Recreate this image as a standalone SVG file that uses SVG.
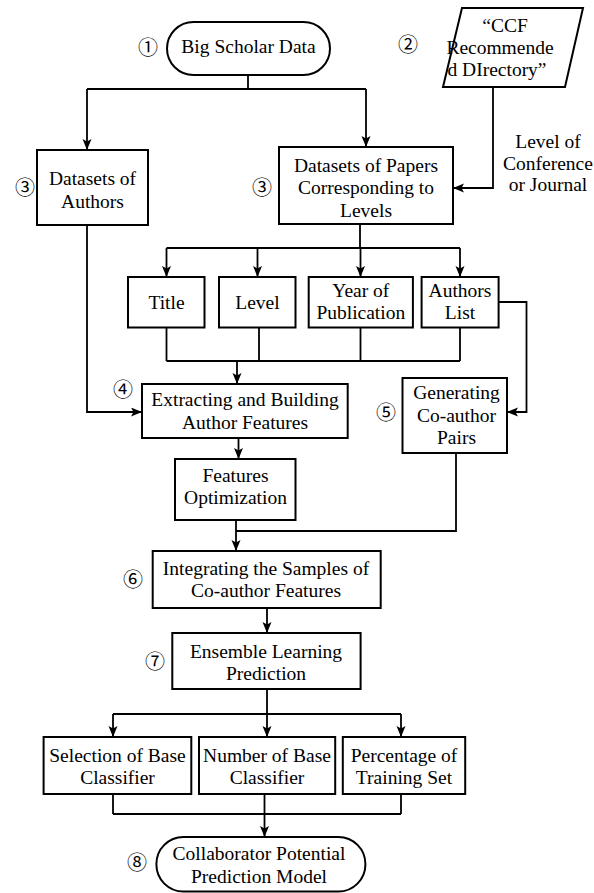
<svg xmlns="http://www.w3.org/2000/svg" width="594" height="893" viewBox="0 0 594 893">
<style>
.box{fill:#fff;stroke:#000;stroke-width:2}
.c{fill:none;stroke:#000;stroke-width:1.8}
.t{font-family:"Liberation Serif","Times New Roman",serif;font-size:19.5px;text-anchor:middle;fill:#000}
.n{font-family:"Noto Sans CJK SC","DejaVu Sans",sans-serif;font-size:20px;text-anchor:middle;fill:#000}
</style>
<defs>
<marker id="ah" markerUnits="userSpaceOnUse" markerWidth="12" markerHeight="10" refX="11" refY="4.5" orient="auto">
<path d="M0,0 L11,4.5 L0,9 L2.5,4.5 Z" fill="#000"/>
</marker>
</defs>
<rect width="594" height="893" fill="#fff"/>
<g id="connectors">
<path class="c" d="M248,75 V89 M87,89 H366"/>
<path class="c" d="M87,89 V150" marker-end="url(#ah)"/>
<path class="c" d="M366,89 V147" marker-end="url(#ah)"/>
<path class="c" d="M493,87 V188 H453" marker-end="url(#ah)"/>
<path class="c" d="M360,224 V248 M166.5,248 H460"/>
<path class="c" d="M166.5,248 V277" marker-end="url(#ah)"/>
<path class="c" d="M257.5,248 V277" marker-end="url(#ah)"/>
<path class="c" d="M360.5,248 V277" marker-end="url(#ah)"/>
<path class="c" d="M460,248 V277" marker-end="url(#ah)"/>
<path class="c" d="M166.5,327 V361 M259,327 V361 M360.5,327 V361 M460,327 V361 M166.5,361 H460"/>
<path class="c" d="M237,361 V384" marker-end="url(#ah)"/>
<path class="c" d="M498.5,302 H526.5 V412 H507" marker-end="url(#ah)"/>
<path class="c" d="M87,225 V412 H142" marker-end="url(#ah)"/>
<path class="c" d="M238.5,438 V459" marker-end="url(#ah)"/>
<path class="c" d="M456,453 V531 H236"/>
<path class="c" d="M236,520 V551" marker-end="url(#ah)"/>
<path class="c" d="M267,608 V633" marker-end="url(#ah)"/>
<path class="c" d="M267,689 V714 M113,714 H401"/>
<path class="c" d="M113,714 V737" marker-end="url(#ah)"/>
<path class="c" d="M267,714 V737" marker-end="url(#ah)"/>
<path class="c" d="M401,714 V737" marker-end="url(#ah)"/>
<path class="c" d="M113,794 V814 M264.5,794 V814 M401,794 V814 M113,814 H401"/>
<path class="c" d="M264.5,814 V837" marker-end="url(#ah)"/>
</g>
<g id="n1">
<rect class="box" x="167" y="22" width="163" height="53" rx="26.5"/>
<text class="t" x="248.5" y="53">Big Scholar Data</text>
<text class="n" x="148" y="55">①</text>
</g>
<g id="n2">
<polygon class="box" points="462,8 583,8 565,87 443,87"/>
<text class="t" x="505" y="31.5">“CCF</text>
<text class="t" x="500" y="54">Recommende</text>
<text class="t" x="497" y="76">d DIrectory”</text>
<text class="n" x="408" y="52">②</text>
</g>
<g id="label-level">
<text class="t" x="548" y="148">Level of</text>
<text class="t" x="548" y="170">Conference</text>
<text class="t" x="548" y="191">or Journal</text>
</g>
<g id="n3a">
<rect class="box" x="37" y="150" width="111" height="75"/>
<text class="t" x="92.5" y="185">Datasets of</text>
<text class="t" x="92.5" y="208">Authors</text>
<text class="n" x="25" y="195">③</text>
</g>
<g id="n3b">
<rect class="box" x="279" y="147" width="174" height="77"/>
<text class="t" x="366" y="171.5">Datasets of Papers</text>
<text class="t" x="366" y="194">Corresponding to</text>
<text class="t" x="366" y="216.5">Levels</text>
<text class="n" x="262" y="195">③</text>
</g>
<g id="title">
<rect class="box" x="128" y="277" width="76.5" height="50.5"/>
<text class="t" x="166.5" y="309">Title</text>
</g>
<g id="level">
<rect class="box" x="219" y="277" width="76.5" height="50.5"/>
<text class="t" x="257.5" y="309">Level</text>
</g>
<g id="year">
<rect class="box" x="308.7" y="277" width="104.2" height="50.5"/>
<text class="t" x="360.8" y="296.5">Year of</text>
<text class="t" x="360.8" y="319">Publication</text>
</g>
<g id="authors">
<rect class="box" x="421.6" y="277" width="77" height="50.5"/>
<text class="t" x="460" y="296.5">Authors</text>
<text class="t" x="460" y="319">List</text>
</g>
<g id="n4">
<rect class="box" x="142" y="384" width="205.7" height="54"/>
<text class="t" x="245" y="406">Extracting and Building</text>
<text class="t" x="245" y="428.5">Author Features</text>
<text class="n" x="123" y="397">④</text>
</g>
<g id="n5">
<rect class="box" x="402.5" y="378" width="104.5" height="75"/>
<text class="t" x="456.5" y="398.5">Generating</text>
<text class="t" x="456.5" y="421.5">Co-author</text>
<text class="t" x="456.5" y="444">Pairs</text>
<text class="n" x="386" y="420">⑤</text>
</g>
<g id="features">
<rect class="box" x="175" y="459" width="120.5" height="61"/>
<text class="t" x="235.5" y="482">Features</text>
<text class="t" x="235.5" y="504">Optimization</text>
</g>
<g id="n6">
<rect class="box" x="152.7" y="551" width="228" height="57"/>
<text class="t" x="266" y="575">Integrating the Samples of</text>
<text class="t" x="266" y="597">Co-author Features</text>
<text class="n" x="133" y="587">⑥</text>
</g>
<g id="n7">
<rect class="box" x="172.3" y="633" width="188.3" height="56"/>
<text class="t" x="266" y="657.5">Ensemble Learning</text>
<text class="t" x="266" y="680">Prediction</text>
<text class="n" x="155" y="669">⑦</text>
</g>
<g id="selection">
<rect class="box" x="43.6" y="737" width="147.7" height="57"/>
<text class="t" x="117.5" y="762">Selection of Base</text>
<text class="t" x="117.5" y="784">Classifier</text>
</g>
<g id="number">
<rect class="box" x="199" y="737" width="136.2" height="57"/>
<text class="t" x="267" y="762">Number of Base</text>
<text class="t" x="267" y="784">Classifier</text>
</g>
<g id="percentage">
<rect class="box" x="342.8" y="737" width="122.4" height="57"/>
<text class="t" x="404" y="762">Percentage of</text>
<text class="t" x="404" y="784">Training Set</text>
</g>
<g id="n8">
<rect class="box" x="156.4" y="837" width="209" height="54.5" rx="27"/>
<text class="t" x="259" y="860">Collaborator Potential</text>
<text class="t" x="259" y="882.5">Prediction Model</text>
<text class="n" x="137" y="870">⑧</text>
</g>
</svg>
